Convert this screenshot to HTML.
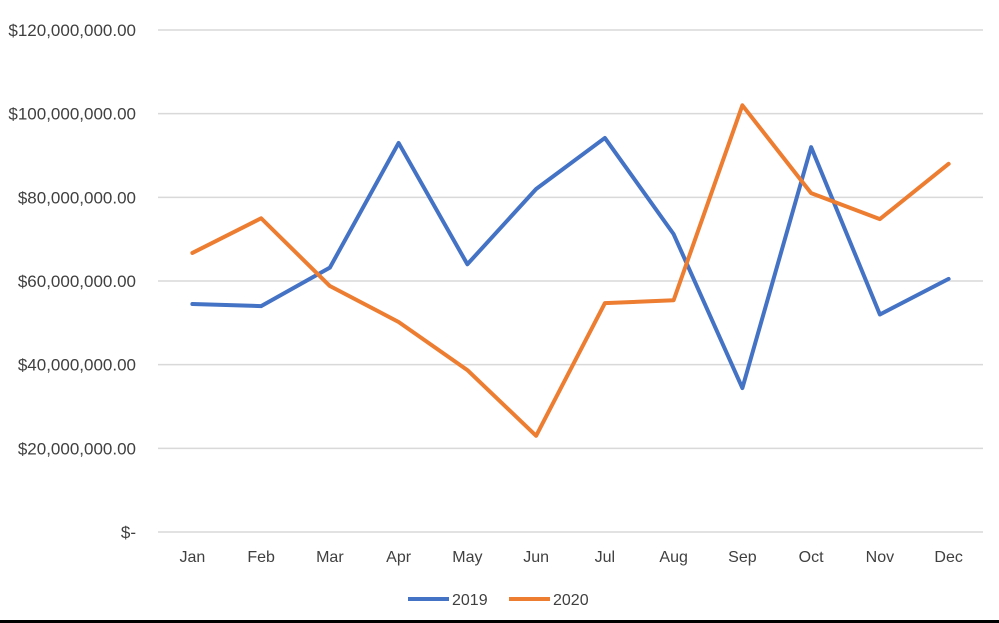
<!DOCTYPE html>
<html><head><meta charset="utf-8"><style>
html,body{margin:0;padding:0;background:#fff;}
svg{display:block;font-family:"Liberation Sans",sans-serif;}
</style></head><body>
<svg id="chart" width="999" height="623" viewBox="0 0 999 623">
<g id="grid"></g><g id="ylab"></g><g id="xlab"></g><g id="series"></g>
<g>
<line x1="408" y1="599" x2="449" y2="599" stroke="#4472C4" stroke-width="4"/>
<text x="452" y="605" font-size="16" fill="#404040">2019</text>
<line x1="509" y1="599" x2="550" y2="599" stroke="#ED7D31" stroke-width="4"/>
<text x="553" y="605" font-size="16" fill="#404040">2020</text>
</g>
<rect x="0" y="620" width="999" height="3" fill="#000"/>
</svg>
<script>
const categories=["Jan","Feb","Mar","Apr","May","Jun","Jul","Aug","Sep","Oct","Nov","Dec"];
const values2019=[54.5,54,63.2,93,64,82,94.2,71.2,34.4,92,52,60.5];
const values2020=[66.7,75,58.8,50.2,38.7,23,54.7,55.4,102,81,74.8,88];
const yTicks=[0,20,40,60,80,100,120];
const yTickLabels=["$-","$20,000,000.00","$40,000,000.00","$60,000,000.00","$80,000,000.00","$100,000,000.00","$120,000,000.00"];
const NS="http://www.w3.org/2000/svg";
const X0=158,X1=983,Y0=532,Y1=30;
const step=(X1-X0)/categories.length;
function xs(i){return X0+step*(i+0.5);}
function ys(v){return Y0-(v/120)*(Y0-Y1);}
function mk(t,a,p){const e=document.createElementNS(NS,t);for(const k in a)e.setAttribute(k,a[k]);p.appendChild(e);return e;}
const grid=document.getElementById('grid'),yl=document.getElementById('ylab'),xl=document.getElementById('xlab'),sr=document.getElementById('series');
yTicks.forEach((v,i)=>{
 const l=mk('line',{x1:X0,x2:X1,y1:ys(v),y2:ys(v),stroke:'#d9d9d9','stroke-width':1.5},grid);
 
 
 const t=mk('text',{x:136,y:ys(v)+6,'text-anchor':'end','font-size':17,fill:'#404040'},yl);
 t.textContent=yTickLabels[i];
 
 
});
categories.forEach((c,i)=>{
 const t=mk('text',{x:xs(i),y:562,'text-anchor':'middle','font-size':16,fill:'#404040'},xl);
 t.textContent=c;
 
 
});
function line(vals,color,name){
 const p=mk('polyline',{points:vals.map((v,i)=>xs(i)+','+ys(v)).join(' '),fill:'none',stroke:color,'stroke-width':4,'stroke-linejoin':'round','stroke-linecap':'round'},sr);
 
 
}
line(values2019,'#4472C4','series-2019-line');
line(values2020,'#ED7D31','series-2020-line');
</script>
</body></html>
